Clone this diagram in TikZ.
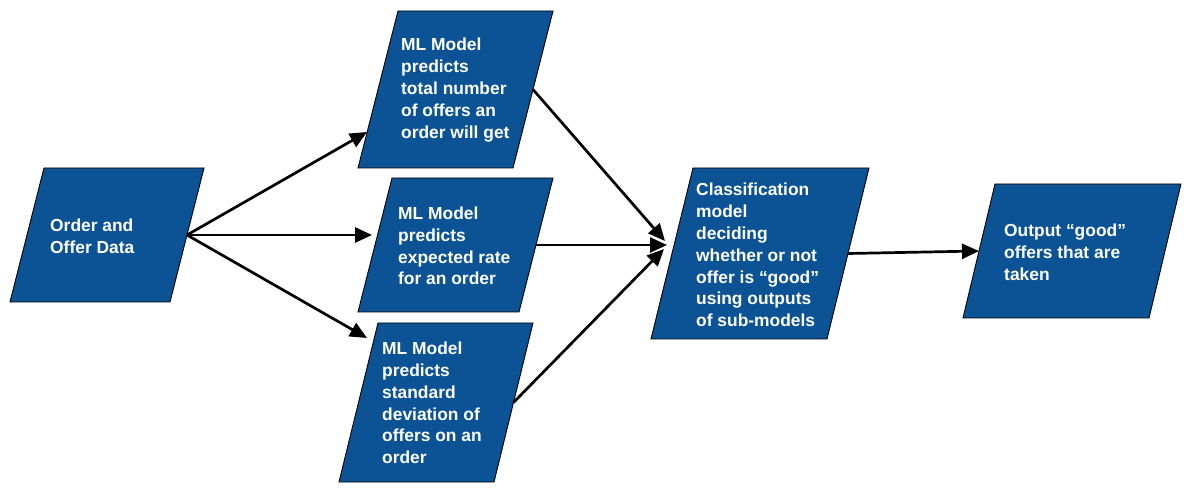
\documentclass[tikz,border=0pt]{standalone}
\usepackage{fontspec}
\setmainfont{Liberation Sans}
\usetikzlibrary{arrows.meta}
\definecolor{boxblue}{HTML}{0B5394}
\tikzset{
  boxarea/.style={draw=none, inner sep=0pt, outer sep=0pt, anchor=north west},
  boxfill/.style={fill=boxblue, draw=black, line width=0.9pt, line join=miter},
  boxtext/.style={text=white, font=\fontsize{17.4}{21.8}\selectfont\bfseries, align=left, anchor=west, inner sep=0pt},
  flow/.style={draw=black, line width=2.7pt, -{Triangle[length=17pt,width=15pt]}}
}
\newcommand{\pgbox}[6]{%
  \node[boxarea, minimum width={(#4+#6)*1pt}, minimum height={#5*1pt}] (#1) at (#2,#3) {};
  \draw[boxfill] ([xshift=#6]#1.north west) -- (#1.north east) -- ([xshift=-#6]#1.south east) -- (#1.south west) -- cycle;
}
\begin{document}
\begin{tikzpicture}[x=1pt,y=-1pt]
\useasboundingbox (0,0) rectangle (1195,494);
% boxes
\pgbox{a}{10}{168}{160}{134}{34}
\pgbox{b1}{358}{11}{155}{157}{40}
\pgbox{b2}{358}{178}{161}{134}{34}
\pgbox{b3}{339}{323}{155}{159}{39}
\pgbox{c}{651}{168}{176}{171}{42}
\pgbox{d}{963}{184}{186}{134}{32}
% texts
\node[boxtext] (at) at (50,236) {Order and\\Offer Data};
\node[boxtext] (b1t) at (401,90) {ML Model\\predicts\\total number\\of offers an\\order will get};
\node[boxtext] (b2t) at (398,246) {ML Model\\predicts\\expected rate\\for an order};
\node[boxtext] (b3t) at (382,403) {ML Model\\predicts\\standard\\deviation of\\offers on an\\order};
\node[boxtext] (ct) at (696,255) {Classification\\model\\deciding\\whether or not\\offer is “good”\\using outputs\\of sub-models};
\node[boxtext] (dt) at (1004,252) {Output “good”\\offers that are\\taken};
% connectors
\draw[flow] ([xshift=-17]a.east) -- ([shift={(9,42.5)}]b1.west);
\draw[flow] ([xshift=-17]a.east) -- ([shift={(14,-10)}]b2.west);
\draw[flow] ([xshift=-17]a.east) -- ([shift={(28,-64.5)}]b3.west);
\draw[flow] ([xshift=-20]b1.east) -- ([shift={(14,-12.5)}]c.west);
\draw[flow] ([xshift=-17]b2.east) -- ([shift={(16,-8.5)}]c.west);
\draw[flow] ([xshift=-19.5]b3.east) -- ([shift={(13,-4.5)}]c.west);
\draw[flow] ([xshift=-21]c.east) -- ([shift={(16,0)}]d.west);
\end{tikzpicture}
\end{document}
